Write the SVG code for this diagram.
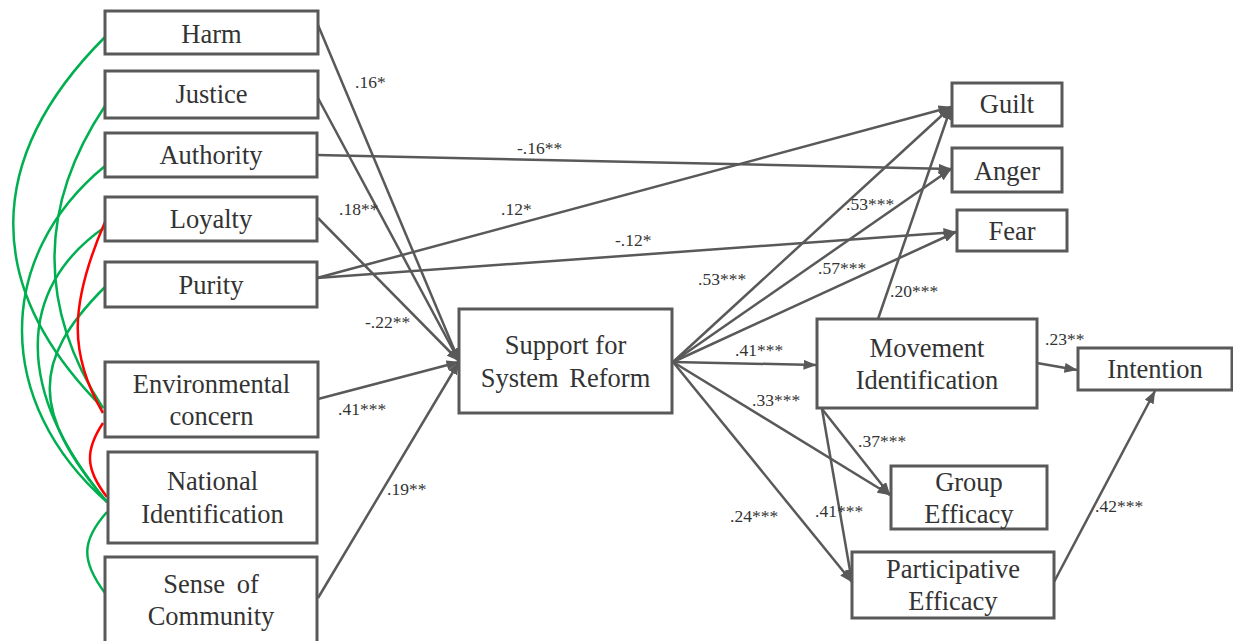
<svg xmlns="http://www.w3.org/2000/svg" width="1233" height="641" viewBox="0 0 1233 641">
  <defs>
    <marker id="arrow" markerUnits="userSpaceOnUse" markerWidth="13" markerHeight="10" viewBox="0 0 13 10" refX="12.5" refY="5" orient="auto">
      <path d="M0,0 L13,5 L0,10 z" fill="#595959"/>
    </marker>
    <style>
      .box { fill: #ffffff; stroke: #595959; stroke-width: 3; }
      .lbl { font-family: "Liberation Serif", "Times New Roman", serif; font-size: 26.5px; fill: #333333; text-anchor: middle; }
      .coef { font-family: "Liberation Serif", "Times New Roman", serif; font-size: 17.5px; fill: #333333; }
      .path { stroke: #595959; stroke-width: 2.5; fill: none; marker-end: url(#arrow); }
      .cov-pos { stroke: #00B050; stroke-width: 2.5; fill: none; }
      .cov-neg { stroke: #FF0000; stroke-width: 2.5; fill: none; }
    </style>
  </defs>
  <rect width="1233" height="641" fill="#ffffff"/>

  <!-- covariances between predictors -->
  <g id="covariances">
    <path class="cov-pos" d="M105,37 C-17,159 -17,288 103,408"/>
    <path class="cov-pos" d="M105,106 C38,206 38,308 103,408"/>
    <path class="cov-pos" d="M105,166 C-6,257 -6,403 107,502"/>
    <path class="cov-pos" d="M105,227 C15,289 15,392 107,502"/>
    <path class="cov-pos" d="M105,287 C31,361 31,412 107,502"/>
    <path class="cov-neg" d="M105,222 C69,305 69,355 103,413"/>
    <path class="cov-neg" d="M103,423 C85,450 85,469 107,497"/>
    <path class="cov-pos" d="M107,512 C81,541 81,561 105,593"/>
  </g>

  <!-- directed paths -->
  <g id="connectors">
    <line class="path" x1="318" y1="25" x2="459" y2="361"/>
    <line class="path" x1="318" y1="98" x2="459" y2="361"/>
    <line class="path" x1="318" y1="218" x2="459" y2="361"/>
    <line class="path" x1="318" y1="399" x2="459" y2="362"/>
    <line class="path" x1="318" y1="598" x2="459" y2="362"/>
    <line class="path" x1="317" y1="155" x2="951" y2="169"/>
    <line class="path" x1="317" y1="278" x2="951" y2="107"/>
    <line class="path" x1="317" y1="278" x2="956" y2="232"/>
    <line class="path" x1="673" y1="362" x2="951" y2="107"/>
    <line class="path" x1="673" y1="362" x2="951" y2="169"/>
    <line class="path" x1="673" y1="362" x2="956" y2="232"/>
    <line class="path" x1="673" y1="362" x2="816" y2="365"/>
    <line class="path" x1="673" y1="362" x2="890" y2="495"/>
    <line class="path" x1="673" y1="362" x2="852" y2="582"/>
    <line class="path" x1="878" y1="319" x2="951" y2="107"/>
    <line class="path" x1="1037" y1="363" x2="1077" y2="370"/>
    <line class="path" x1="822" y1="409" x2="890" y2="495"/>
    <line class="path" x1="822" y1="409" x2="852" y2="582"/>
    <line class="path" x1="1054" y1="582" x2="1155" y2="391"/>
  </g>

  <!-- path coefficients -->
  <g id="coefficients">
    <text class="coef" x="355" y="88">.16*</text>
    <text class="coef" x="517" y="154">-.16**</text>
    <text class="coef" x="339" y="215">.18**</text>
    <text class="coef" x="501" y="215">.12*</text>
    <text class="coef" x="615" y="246">-.12*</text>
    <text class="coef" x="365" y="328">-.22**</text>
    <text class="coef" x="338" y="415">.41***</text>
    <text class="coef" x="387" y="495">.19**</text>
    <text class="coef" x="846" y="210">.53***</text>
    <text class="coef" x="698" y="285">.53***</text>
    <text class="coef" x="818" y="274">.57***</text>
    <text class="coef" x="890" y="297">.20***</text>
    <text class="coef" x="735" y="356">.41***</text>
    <text class="coef" x="752" y="406">.33***</text>
    <text class="coef" x="858" y="447">.37***</text>
    <text class="coef" x="730" y="522">.24***</text>
    <text class="coef" x="815" y="517">.41***</text>
    <text class="coef" x="1095" y="512">.42***</text>
    <text class="coef" x="1045" y="345">.23**</text>
  </g>

  <g id="harm">
    <rect class="box" x="105" y="11" width="213" height="43"/>
    <text class="lbl" x="211.5" y="43">Harm</text>
  </g>
  <g id="justice">
    <rect class="box" x="105" y="71" width="213" height="47"/>
    <text class="lbl" x="211.5" y="103">Justice</text>
  </g>
  <g id="authority">
    <rect class="box" x="105" y="133" width="212" height="44"/>
    <text class="lbl" x="211" y="164">Authority</text>
  </g>
  <g id="loyalty">
    <rect class="box" x="105" y="197" width="212" height="44"/>
    <text class="lbl" x="211" y="228">Loyalty</text>
  </g>
  <g id="purity">
    <rect class="box" x="105" y="262" width="212" height="45"/>
    <text class="lbl" x="211" y="294">Purity</text>
  </g>
  <g id="environmental-concern">
    <rect class="box" x="105" y="362" width="213" height="75"/>
    <text class="lbl" x="211.5" y="393">Environmental</text>
    <text class="lbl" x="211.5" y="425">concern</text>
  </g>
  <g id="national-identification">
    <rect class="box" x="108" y="452" width="209" height="91"/>
    <text class="lbl" x="212.5" y="490">National</text>
    <text class="lbl" x="212.5" y="523">Identification</text>
  </g>
  <g id="sense-of-community">
    <rect class="box" x="105" y="557" width="212" height="92"/>
    <text class="lbl" x="211" y="593" word-spacing="5">Sense of</text>
    <text class="lbl" x="211" y="625">Community</text>
  </g>
  <g id="support-for-system-reform">
    <rect class="box" x="459" y="309" width="213" height="104"/>
    <text class="lbl" x="565.5" y="354">Support for</text>
    <text class="lbl" x="565.5" y="387" word-spacing="4">System Reform</text>
  </g>
  <g id="guilt">
    <rect class="box" x="952" y="83" width="110" height="43"/>
    <text class="lbl" x="1007" y="113">Guilt</text>
  </g>
  <g id="anger">
    <rect class="box" x="952" y="148" width="110" height="44"/>
    <text class="lbl" x="1007" y="180">Anger</text>
  </g>
  <g id="fear">
    <rect class="box" x="957" y="210" width="110" height="41"/>
    <text class="lbl" x="1012" y="240">Fear</text>
  </g>
  <g id="movement-identification">
    <rect class="box" x="817" y="319" width="220" height="89"/>
    <text class="lbl" x="927" y="357">Movement</text>
    <text class="lbl" x="927" y="389">Identification</text>
  </g>
  <g id="intention">
    <rect class="box" x="1078" y="348" width="154" height="42"/>
    <text class="lbl" x="1155" y="378">Intention</text>
  </g>
  <g id="group-efficacy">
    <rect class="box" x="891" y="466" width="156" height="63"/>
    <text class="lbl" x="969" y="491">Group</text>
    <text class="lbl" x="969" y="523">Efficacy</text>
  </g>
  <g id="participative-efficacy">
    <rect class="box" x="852" y="552" width="202" height="66"/>
    <text class="lbl" x="953" y="578">Participative</text>
    <text class="lbl" x="953" y="610">Efficacy</text>
  </g>
</svg>
